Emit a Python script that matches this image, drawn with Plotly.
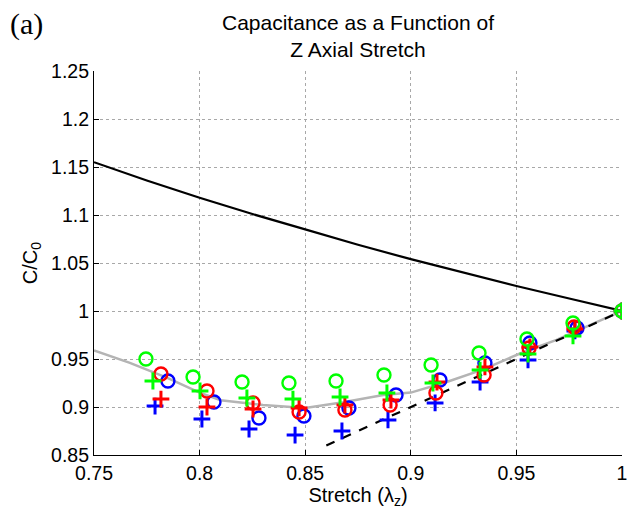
import plotly.graph_objects as go

# ---- data ----
theory_x = [0.75, 0.775, 0.8, 0.825, 0.85, 0.875, 0.9, 0.925, 0.95, 0.975, 1.0]
theory_y = [1.155, 1.136, 1.118, 1.101, 1.085, 1.069, 1.054, 1.040, 1.026, 1.013, 1.0]

fit_x = [0.75, 0.767, 0.785, 0.8, 0.81, 0.83, 0.85, 0.868, 0.887, 0.9, 0.917, 0.934, 0.952, 0.969, 1.0]
fit_y = [0.959, 0.946, 0.930, 0.915, 0.907, 0.902, 0.899, 0.905, 0.9125, 0.915, 0.926, 0.939, 0.956, 0.970, 1.0]

ideal_x = [0.86, 1.0]
ideal_y = [0.86, 1.0]

green_o_x = [0.7746, 0.7969, 0.8201, 0.8423, 0.8646, 0.8873, 0.9096, 0.9323, 0.9550, 0.9768, 1.0]
green_o_y = [0.950, 0.9313, 0.9260, 0.9250, 0.9271, 0.9333, 0.9438, 0.9563, 0.9708, 0.9875, 1.0]
green_p_x = [0.7779, 0.8002, 0.8224, 0.8442, 0.8665, 0.8887, 0.9105, 0.9328, 0.9555, 0.9768, 1.0]
green_p_y = [0.9271, 0.9167, 0.9094, 0.9083, 0.9104, 0.9146, 0.9250, 0.9385, 0.9552, 0.9740, 1.0]
red_o_x = [0.7817, 0.8035, 0.8253, 0.8471, 0.8688, 0.8902, 0.9119, 0.9347, 0.9560, 0.9773, 1.0]
red_o_y = [0.9344, 0.9167, 0.9042, 0.8948, 0.8969, 0.9021, 0.9146, 0.9333, 0.9615, 0.9833, 1.0]
red_p_x = [0.7817, 0.8035, 0.8253, 0.8471, 0.8688, 0.8906, 0.9124, 0.9351, 0.9564, 0.9777, 1.0]
red_p_y = [0.9083, 0.9000, 0.8979, 0.8990, 0.9021, 0.9073, 0.9260, 0.9417, 0.9625, 0.9813, 1.0]
blue_o_x = [0.7850, 0.8068, 0.8281, 0.8494, 0.8707, 0.8930, 0.9138, 0.9351, 0.9564, 0.9787, 1.0]
blue_o_y = [0.9271, 0.9052, 0.8885, 0.8906, 0.8990, 0.9125, 0.9281, 0.9458, 0.9667, 0.9823, 1.0]
blue_p_x = [0.7789, 0.8011, 0.8234, 0.8452, 0.8674, 0.8892, 0.9115, 0.9328, 0.9555, 0.9777, 1.0]
blue_p_y = [0.9010, 0.8875, 0.8771, 0.8708, 0.8750, 0.8865, 0.9042, 0.9260, 0.9490, 0.9792, 1.0]

x_ticks = [0.75, 0.8, 0.85, 0.9, 0.95, 1.0]
x_tick_text = ["0.75", "0.8", "0.85", "0.9", "0.95", "1"]
y_ticks = [0.85, 0.9, 0.95, 1.0, 1.05, 1.1, 1.15, 1.2, 1.25]
y_tick_text = ["0.85", "0.9", "0.95", "1", "1.05", "1.1", "1.15", "1.2", "1.25"]

FONT = "Liberation Sans, Arial, sans-serif"

fig = go.Figure()
fig.add_trace(go.Scatter(x=theory_x, y=theory_y, mode="lines",
                         line=dict(color="black", width=2.2), showlegend=False))
fig.add_trace(go.Scatter(x=fit_x, y=fit_y, mode="lines",
                         line=dict(color="#b4b4b4", width=2.5), showlegend=False))
fig.add_trace(go.Scatter(x=ideal_x, y=ideal_y, mode="lines",
                         line=dict(color="black", width=2.2, dash="dash"), showlegend=False))

def circles(x, y, c):
    return go.Scatter(x=x, y=y, mode="markers", showlegend=False,
                      marker=dict(symbol="circle-open", size=13, color=c, line=dict(color=c, width=2.4)))

def pluses(x, y, c):
    return go.Scatter(x=x, y=y, mode="markers", showlegend=False,
                      marker=dict(symbol="cross-thin-open", size=12, color=c, line=dict(color=c, width=3)))

fig.add_trace(circles(blue_o_x, blue_o_y, "#0000ff"))
fig.add_trace(pluses(blue_p_x, blue_p_y, "#0000ff"))
fig.add_trace(circles(red_o_x, red_o_y, "#ff0000"))
fig.add_trace(pluses(red_p_x, red_p_y, "#ff0000"))
fig.add_trace(circles(green_o_x, green_o_y, "#00ff00"))
fig.add_trace(pluses(green_p_x, green_p_y, "#00ff00"))

axis_common = dict(showgrid=True, gridcolor="#a8a8a8", griddash="dot", gridwidth=1,
                   showline=True, linecolor="black", linewidth=1.2, automargin=False,
                   ticks="inside", ticklen=5, tickcolor="black", zeroline=False,
                   tickfont=dict(family=FONT, size=19.5, color="black"))

fig.update_xaxes(range=[0.75, 1.0], tickvals=x_ticks, ticktext=x_tick_text,
                 title=dict(text="Stretch (λ<sub>z</sub>)", font=dict(family=FONT, size=20, color="black"),
                            standoff=4),
                 **axis_common)
fig.update_yaxes(range=[0.85, 1.25], tickvals=y_ticks, ticktext=y_tick_text,
                 title=dict(text="C/C<sub>0</sub>", font=dict(family=FONT, size=20, color="black"),
                            standoff=8),
                 **axis_common)

fig.add_annotation(text="Capacitance as a Function of<br>Z Axial Stretch", xref="paper", yref="paper",
                   x=0.5, y=1.161, xanchor="center", yanchor="top", showarrow=False,
                   font=dict(family=FONT, size=21, color="black"))
fig.add_annotation(text="(a)", xref="paper", yref="paper", x=-0.162, y=1.122,
                   xanchor="left", yanchor="middle", showarrow=False,
                   font=dict(family="Liberation Serif, Times New Roman, serif", size=30, color="black"))

# the page body adds an 8px offset; the figure is sized so the plot lands where the reference has it
fig.update_layout(width=627, height=513, margin=dict(l=86, r=13, t=63, b=66),
                  plot_bgcolor="white", paper_bgcolor="white")

fig.write_html("out.html")
